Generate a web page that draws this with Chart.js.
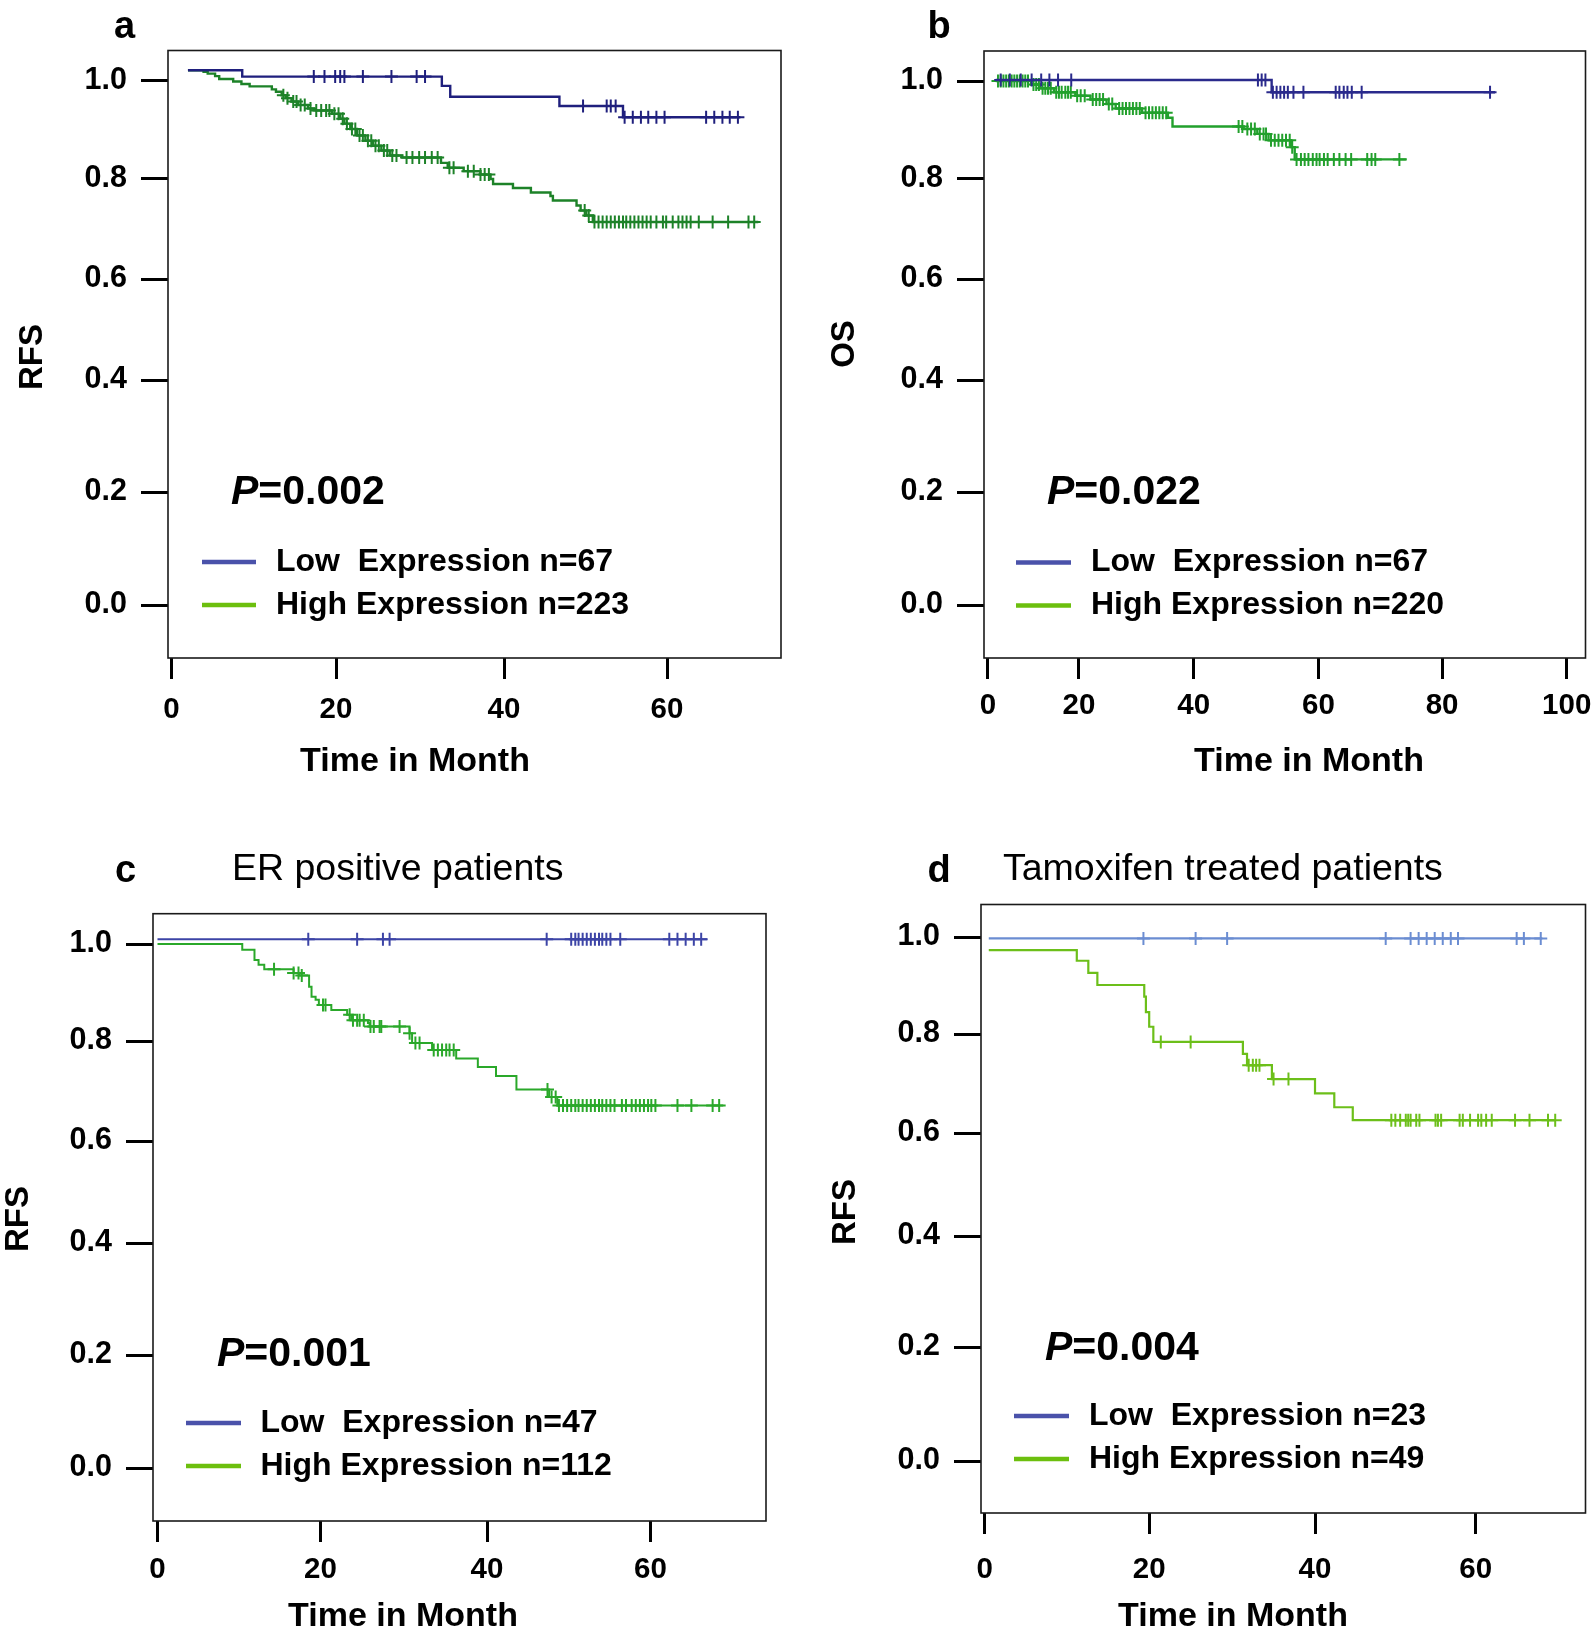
<!DOCTYPE html>
<html>
<head>
<meta charset="utf-8">
<script src="https://cdn.jsdelivr.net/npm/chart.js@4.4.1/dist/chart.umd.min.js"></script>
<style>
html,body{margin:0;padding:0;background:#fff;}
#wrap{position:relative;width:1594px;height:1641px;overflow:hidden;background:#fff;}
canvas{position:absolute;left:0;top:0;}
</style>
</head>
<body>
<div id="wrap">
<canvas id="pa" width="1594" height="1641"></canvas>
<canvas id="pb" width="1594" height="1641"></canvas>
<canvas id="pc" width="1594" height="1641"></canvas>
<canvas id="pd" width="1594" height="1641"></canvas>
</div>
<script>
// ---------------- texts ----------------
const panelLetters = ['a', 'b', 'c', 'd'];
const panelSubtitles = ['', '', 'ER positive patients', 'Tamoxifen treated patients'];
const yAxisTitles = ['RFS', 'OS', 'RFS', 'RFS'];
const xAxisTitle = 'Time in Month';
const pValues = ['0.002', '0.022', '0.001', '0.004'];
const legendLow = ['Low  Expression n=67', 'Low  Expression n=67', 'Low  Expression n=47', 'Low  Expression n=23'];
const legendHigh = ['High Expression n=223', 'High Expression n=220', 'High Expression n=112', 'High Expression n=49'];

// ---------------- tick labels ----------------
const yTickValues = [0, 0.2, 0.4, 0.6, 0.8, 1.0];
const xTickValuesA = [0, 20, 40, 60];
const xTickValuesB = [0, 20, 40, 60, 80, 100];
const xTickValuesC = [0, 20, 40, 60];
const xTickValuesD = [0, 20, 40, 60];

// ---------------- panel a (RFS) ----------------
const aLowTime = [2.0, 8.6, 32.6, 33.6, 46.8, 54.6];
const aLowSurv = [1.022, 1.009, 0.990, 0.968, 0.949, 0.926];
const aLowEnd = 69.0;
const aLowCensor = [17.3, 18.6, 19.9, 20.5, 21.0, 23.2, 26.6, 29.6, 30.6, 49.7, 52.6, 53.1, 53.7,
  54.8, 55.8, 56.8, 57.7, 58.7, 59.7, 64.8, 65.8, 66.8, 67.7, 68.7];
const aHighTime = [2.0, 3.9, 4.4, 5.3, 5.8, 7.5, 8.5, 9.5, 12.2, 12.7, 13.4, 13.9, 14.6, 15.4, 16.6, 17.3,
  19.5, 20.5, 21.0, 21.7, 22.5, 23.5, 24.4, 25.4, 26.4, 27.9, 32.5, 33.3, 35.2, 37.2, 38.4, 38.7,
  41.1, 43.3, 45.7, 46.0, 48.9, 49.4, 50.1, 50.9];
const aHighSurv = [1.022, 1.019, 1.015, 1.010, 1.004, 0.999, 0.994, 0.989, 0.983, 0.978, 0.971, 0.965, 0.958, 0.951, 0.944, 0.940,
  0.933, 0.923, 0.913, 0.902, 0.889, 0.878, 0.868, 0.858, 0.848, 0.844, 0.833, 0.823, 0.816, 0.809, 0.800, 0.790,
  0.782, 0.773, 0.766, 0.757, 0.747, 0.737, 0.727, 0.714];
const aHighEnd = 71.2;
const aHighCensor = [13.6, 14.1, 14.8, 15.2, 15.7, 16.2, 16.9, 17.6, 18.2, 18.8, 19.2, 19.8, 20.3, 20.8, 21.3, 21.9,
  22.3, 22.8, 23.2, 23.8, 24.2, 24.7, 25.1, 25.7, 26.1, 26.7, 27.2, 28.4, 29.1, 29.9, 30.6, 31.4, 32.1,
  33.5, 34.0, 35.7, 36.4, 37.2, 37.7, 38.2, 49.9, 50.4, 51.1, 51.6, 52.1, 52.6, 53.1, 53.6, 54.1, 54.6,
  55.0, 55.5, 56.0, 56.5, 57.0, 57.5, 58.0, 58.7, 59.5, 59.9, 60.7, 61.4, 61.9, 62.4, 62.9, 63.9,
  65.6, 67.5, 70.0, 70.7];

// ---------------- panel b (OS) ----------------
const bLowTime = [1.7, 52.5];
const bLowSurv = [1.002, 0.977];
const bLowEnd = 88.5;
const bLowCensor = [2.8, 4.8, 7.2, 9.6, 11.7, 13.5, 15.4, 18.3, 50.3, 50.9, 51.5, 52.7, 53.3, 53.9, 54.5,
  55.1, 56.0, 57.6, 62.8, 63.4, 64.1, 64.7, 65.4, 67.0, 87.7];
const bHighTime = [1.7, 9.5, 11.5, 14.5, 19.2, 22.0, 24.8, 26.4, 31.0, 35.5, 36.3, 48.0, 50.2, 52.0, 55.6, 56.2];
const bHighSurv = [1.0, 0.993, 0.985, 0.977, 0.970, 0.962, 0.953, 0.944, 0.935, 0.925, 0.907, 0.902, 0.892, 0.879, 0.865, 0.840];
const bHighEnd = 74.3;
const bHighCensor = [2.2, 2.8, 3.4, 4.0, 4.6, 5.2, 5.8, 6.4, 7.0, 7.6, 8.2, 8.8, 10.0, 10.6, 11.2, 12.0, 12.6,
  13.2, 13.8, 15.0, 15.6, 16.2, 17.0, 17.6, 18.2, 19.6, 20.3, 21.0, 22.4, 23.0, 23.6, 24.2, 25.2, 25.8,
  27.0, 27.6, 28.2, 28.8, 29.4, 30.0, 30.6, 31.6, 32.2, 32.8, 33.4, 34.0, 34.6, 35.2, 47.2, 47.8, 48.6,
  49.2, 49.8, 50.6, 51.2, 51.6, 52.4, 53.0, 53.6, 54.2, 54.8, 55.4, 55.8, 56.5, 57.2, 57.8, 58.4, 59.1,
  59.7, 60.2, 60.9, 61.5, 62.5, 63.4, 64.4, 65.3, 67.9, 68.6, 69.2, 73.1];

// ---------------- panel c (ER positive) ----------------
const cLowTime = [0.0];
const cLowSurv = [1.010];
const cLowEnd = 66.9;
const cLowCensor = [18.5, 24.4, 27.5, 28.3, 47.3, 50.3, 50.8, 51.2, 51.7, 52.2, 52.7, 53.2, 53.7, 54.1,
  54.6, 55.1, 56.3, 62.3, 63.3, 64.3, 65.3, 66.2];
const cHighTime = [0.0, 10.4, 11.9, 12.4, 13.1, 16.7, 17.4, 18.6, 18.9, 19.4, 19.8, 21.3, 23.2, 23.7, 25.7, 25.9,
  30.7, 31.0, 33.4, 36.3, 38.9, 41.1, 43.6, 47.6, 48.6];
const cHighSurv = [1.0, 0.988, 0.967, 0.957, 0.948, 0.940, 0.935, 0.912, 0.891, 0.885, 0.874, 0.864, 0.854, 0.843, 0.837, 0.830,
  0.816, 0.796, 0.782, 0.765, 0.748, 0.730, 0.703, 0.688, 0.671];
const cHighEnd = 68.9;
const cHighCensor = [14.3, 16.7, 17.3, 17.7, 20.3, 20.6, 23.5, 23.9, 24.4, 24.7, 25.2, 26.0, 26.4, 27.1, 27.3,
  29.5, 30.7, 31.4, 31.9, 33.6, 34.1, 34.6, 35.1, 35.5, 36.0, 47.4, 47.9, 48.4, 48.8, 49.3, 49.8, 50.3,
  50.8, 51.2, 51.7, 52.2, 52.7, 53.2, 53.7, 54.1, 54.6, 55.1, 55.6, 56.5, 57.0, 57.7, 58.2, 58.7, 59.2,
  59.7, 60.1, 60.6, 63.3, 65.0, 67.6, 68.4];

// ---------------- panel d (Tamoxifen treated) ----------------
const dLowTime = [0.5];
const dLowSurv = [0.997];
const dLowEnd = 68.3;
const dLowCensor = [19.3, 25.6, 29.4, 48.8, 51.9, 52.9, 53.9, 54.9, 55.9, 56.9, 57.8, 65.1, 66.0, 68.1];
const dHighTime = [0.5, 11.2, 12.6, 13.7, 19.4, 19.6, 20.0, 20.5, 31.3, 31.8, 34.8, 40.0, 42.4, 44.7];
const dHighSurv = [0.973, 0.951, 0.926, 0.901, 0.877, 0.845, 0.815, 0.784, 0.760, 0.737, 0.709, 0.680, 0.652, 0.626];
const dHighEnd = 69.9;
const dHighCensor = [21.4, 25.0, 32.0, 32.5, 32.9, 33.3, 35.0, 36.8, 49.5, 50.0, 50.6, 51.3, 51.6, 51.9, 52.6,
  53.0, 55.0, 55.3, 55.7, 58.0, 58.4, 59.3, 60.3, 60.7, 61.3, 62.0, 64.9, 66.7, 69.0, 69.9];

// ================= rendering =================
const FONT = '"Liberation Sans", Arial, Helvetica, sans-serif';
Chart.defaults.font.family = FONT;
Chart.defaults.color = '#000';

// Piecewise-linear scale: the published axes have unevenly spaced tick marks.
class PiecewiseScale extends Chart.LinearScale {
  _pwDecimal(v) {
    const vals = this.options.anchorValues, decs = this.options.anchorDecimals;
    const n = vals.length;
    let i = 0;
    while (i < n - 2 && v > vals[i + 1]) i++;
    return decs[i] + (v - vals[i]) * (decs[i + 1] - decs[i]) / (vals[i + 1] - vals[i]);
  }
  getPixelForValue(value) {
    if (value === null || value === undefined || Number.isNaN(value)) return NaN;
    return this.getPixelForDecimal(this._pwDecimal(value));
  }
  getValueForPixel(pixel) {
    const d = this.getDecimalForPixel(pixel);
    const vals = this.options.anchorValues, decs = this.options.anchorDecimals;
    const n = vals.length;
    let i = 0;
    while (i < n - 2 && d > decs[i + 1]) i++;
    return vals[i] + (d - decs[i]) * (vals[i + 1] - vals[i]) / (decs[i + 1] - decs[i]);
  }
}
PiecewiseScale.id = 'piecewise';
PiecewiseScale.defaults = Chart.LinearScale.defaults;
Chart.register(PiecewiseScale);

function valueAtDecimal(vals, decs, d) {
  const n = vals.length;
  let i = 0;
  while (i < n - 2 && d > decs[i + 1]) i++;
  return vals[i] + (d - decs[i]) * (vals[i + 1] - vals[i]) / (decs[i + 1] - decs[i]);
}

function stepValue(times, surv, t) {
  let v = surv[0];
  for (let i = 0; i < times.length; i++) if (t >= times[i]) v = surv[i];
  return v;
}
function curvePoints(times, surv, end) {
  const pts = times.map((t, i) => ({x: t, y: surv[i]}));
  pts.push({x: end, y: surv[surv.length - 1]});
  return pts;
}
function censorPoints(times, surv, cens) {
  return cens.map(t => ({x: t, y: stepValue(times, surv, t)}));
}

const series = [
  {low: [aLowTime, aLowSurv, aLowEnd, aLowCensor], high: [aHighTime, aHighSurv, aHighEnd, aHighCensor], xt: xTickValuesA},
  {low: [bLowTime, bLowSurv, bLowEnd, bLowCensor], high: [bHighTime, bHighSurv, bHighEnd, bHighCensor], xt: xTickValuesB},
  {low: [cLowTime, cLowSurv, cLowEnd, cLowCensor], high: [cHighTime, cHighSurv, cHighEnd, cHighCensor], xt: xTickValuesC},
  {low: [dLowTime, dLowSurv, dLowEnd, dLowCensor], high: [dHighTime, dHighSurv, dHighEnd, dHighCensor], xt: xTickValuesD}
];

// layout (page pixels)
const geom = [
  {box: {L: 168, T: 50.5, R: 781, B: 658}, xPx: [171.5, 336, 504, 667], yPx: [605, 492, 380, 279, 179, 81],
   letter: [124.5, 38], sub: null, p: [231, 504], leg: {x1: 202, x2: 256, y: [562, 605], tx: 276},
   xt: [415, 762], yt: [33, 357], xPad: 13},
  {box: {L: 984, T: 51, R: 1592, B: 658}, xPx: [988, 1080, 1196, 1322, 1447, 1573], yPx: [605, 492, 380, 279, 179, 81],
   letter: [939, 38], sub: null, p: [1047, 504], leg: {x1: 1016, x2: 1071, y: [562.5, 605.5], tx: 1091},
   xt: [1309, 762], yt: [845, 344], xPad: 9},
  {box: {L: 153, T: 913.7, R: 766, B: 1521}, xPx: [157.5, 320.5, 487, 650.5], yPx: [1468, 1355, 1243, 1141, 1041, 944],
   letter: [125.5, 882], sub: [232, 880], p: [217, 1366], leg: {x1: 186, x2: 241, y: [1423, 1466], tx: 260.5},
   xt: [403, 1617], yt: [18.5, 1219], xPad: 10.6},
  {box: {L: 981, T: 904.5, R: 1592, B: 1513}, xPx: [984.7, 1151, 1318.6, 1481], yPx: [1461, 1347, 1236, 1133, 1034, 937],
   letter: [939, 882], sub: [1003, 880], p: [1045, 1360], leg: {x1: 1014, x2: 1069, y: [1416, 1459], tx: 1089},
   xt: [1233, 1617], yt: [845.5, 1212], xPad: 18.6}
];
const styles = [
  {low: '#1f1f7d', high: '#1d8228', w: 2.4},
  {low: '#2a2a8c', high: '#22a02c', w: 2.4},
  {low: '#3c44a6', high: '#2aa82a', w: 2.0},
  {low: '#6b8dd2', high: '#6cbf1a', w: 2.2}
];
const legendColors = ['#4a52aa', '#6cbf0e'];
const PAGE_W = 1594, PAGE_H = 1641, X_AXIS_H = 100;

function makeDeco(i) {
  const G = geom[i];
  return {
    id: 'deco' + i,
    afterDraw(chart) {
      const c = chart.ctx, ca = chart.chartArea;
      c.save();
      c.strokeStyle = '#1a1a1a';
      c.lineWidth = 1.6;
      c.strokeRect(ca.left, ca.top, ca.right - ca.left, ca.bottom - ca.top);
      c.fillStyle = '#000';
      // panel letter
      c.font = 'bold 38px ' + FONT;
      c.textAlign = 'center';
      c.textBaseline = 'alphabetic';
      c.fillText(panelLetters[i], G.letter[0], G.letter[1]);
      // subtitle
      if (panelSubtitles[i]) {
        c.font = '37.5px ' + FONT;
        c.textAlign = 'left';
        c.fillText(panelSubtitles[i], G.sub[0], G.sub[1]);
      }
      // P value
      c.textAlign = 'left';
      c.font = 'italic bold 41px ' + FONT;
      c.fillText('P', G.p[0], G.p[1]);
      const pw = c.measureText('P').width;
      c.font = 'bold 41px ' + FONT;
      c.fillText('=' + pValues[i], G.p[0] + pw, G.p[1]);
      // legend
      c.lineWidth = 4.5;
      c.lineCap = 'butt';
      [legendLow[i], legendHigh[i]].forEach((txt, k) => {
        c.strokeStyle = legendColors[k];
        c.beginPath();
        c.moveTo(G.leg.x1, G.leg.y[k]);
        c.lineTo(G.leg.x2, G.leg.y[k]);
        c.stroke();
        c.font = 'bold 32px ' + FONT;
        c.textBaseline = 'middle';
        c.textAlign = 'left';
        c.fillText(txt, G.leg.tx, G.leg.y[k]);
      });
      // axis titles
      c.font = 'bold 34px ' + FONT;
      c.textAlign = 'center';
      c.textBaseline = 'middle';
      c.fillText(xAxisTitle, G.xt[0], G.xt[1]);
      c.font = 'bold 33px ' + FONT;
      c.translate(G.yt[0], G.yt[1]);
      c.rotate(-Math.PI / 2);
      c.fillText(yAxisTitles[i], 0, 0);
      c.restore();
    }
  };
}

['pa', 'pb', 'pc', 'pd'].forEach((id, i) => {
  const G = geom[i], S = series[i], st = styles[i];
  const b = G.box;
  const xDec = G.xPx.map(p => (p - b.L) / (b.R - b.L));
  const yDec = G.yPx.map(p => (b.B - p) / (b.B - b.T));
  const xMin = valueAtDecimal(S.xt, xDec, 0), xMax = valueAtDecimal(S.xt, xDec, 1);
  const yMin = valueAtDecimal(yTickValues, yDec, 0), yMax = valueAtDecimal(yTickValues, yDec, 1);
  const [lt, ls, le, lc] = S.low;
  const [ht, hs, he, hc] = S.high;

  new Chart(document.getElementById(id), {
    type: 'line',
    data: {
      datasets: [
        {data: curvePoints(lt, ls, le), borderColor: st.low, borderWidth: st.w, stepped: true, pointRadius: 0, fill: false},
        {data: censorPoints(lt, ls, lc), showLine: false, pointStyle: 'cross', pointRadius: 6.5,
         pointBorderColor: st.low, pointBorderWidth: 2, borderColor: st.low},
        {data: curvePoints(ht, hs, he), borderColor: st.high, borderWidth: st.w, stepped: true, pointRadius: 0, fill: false},
        {data: censorPoints(ht, hs, hc), showLine: false, pointStyle: 'cross', pointRadius: 6.5,
         pointBorderColor: st.high, pointBorderWidth: 2, borderColor: st.high}
      ]
    },
    options: {
      responsive: false,
      animation: false,
      events: [],
      layout: {padding: {left: 0, top: b.T, right: PAGE_W - b.R, bottom: PAGE_H - b.B - X_AXIS_H}},
      plugins: {legend: {display: false}, tooltip: {enabled: false}, title: {display: false}},
      scales: {
        x: {
          type: 'piecewise', position: 'bottom', min: xMin, max: xMax,
          anchorValues: S.xt, anchorDecimals: xDec,
          grid: {display: true, drawOnChartArea: false, drawTicks: true, tickLength: 21, tickWidth: 3, tickColor: '#000'},
          border: {display: false},
          ticks: {color: '#000', font: {size: 29.5, weight: 'bold'}, padding: G.xPad, maxRotation: 0, minRotation: 0,
                  autoSkip: false, callback: v => String(v)},
          afterBuildTicks: s => { s.ticks = S.xt.map(v => ({value: v})); },
          afterFit: s => { s.height = X_AXIS_H; s.paddingLeft = 0; s.paddingRight = 0; s.paddingTop = 0; s.paddingBottom = 0; }
        },
        y: {
          type: 'piecewise', position: 'left', min: yMin, max: yMax,
          anchorValues: yTickValues, anchorDecimals: yDec,
          grid: {display: true, drawOnChartArea: false, drawTicks: true, tickLength: 27, tickWidth: 3, tickColor: '#000'},
          border: {display: false},
          ticks: {color: '#000', font: {size: 30.5, weight: 'bold'}, padding: 14, autoSkip: false,
                  callback: v => Number(v).toFixed(1)},
          afterBuildTicks: s => { s.ticks = yTickValues.map(v => ({value: v})); },
          afterFit: s => { s.width = b.L; s.paddingLeft = 0; s.paddingRight = 0; s.paddingTop = 0; s.paddingBottom = 0; }
        }
      }
    },
    plugins: [makeDeco(i)]
  });
});
</script>
</body>
</html>
